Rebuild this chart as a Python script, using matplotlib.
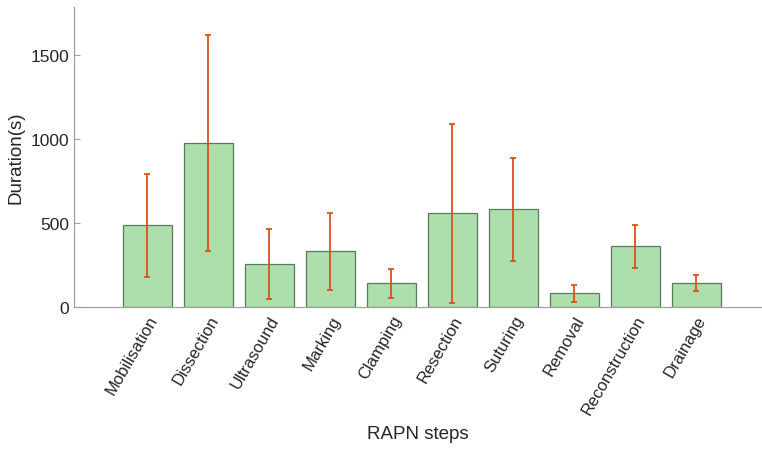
import numpy as np
from matplotlib import pyplot as plt
from matplotlib.transforms import ScaledTranslation

plt.rcParams['font.family'] = ['Liberation Sans', 'DejaVu Sans']

steps = ['Mobilisation', 'Dissection', 'Ultrasound', 'Marking', 'Clamping',
         'Resection', 'Suturing', 'Removal', 'Reconstruction', 'Drainage']
mean_dur = [488, 974, 256, 331, 143, 558, 581, 81, 361, 145]
err_low = [179, 333, 48, 103, 52, 26, 274, 30, 234, 97]
err_high = [792, 1619, 464, 561, 226, 1089, 887, 133, 488, 192]

fig = plt.figure(figsize=(7.62, 4.52), dpi=100)
ax = fig.add_axes([74 / 762, 144 / 452, 688 / 762, 300 / 452])

x = np.arange(1, len(steps) + 1)
mean_arr = np.array(mean_dur)
yerr = [mean_arr - np.array(err_low), np.array(err_high) - mean_arr]

ax.bar(x, mean_dur, width=0.8, color='#addfad', edgecolor='#5a7a5a', linewidth=0.9)
ax.errorbar(x, mean_dur, yerr=yerr, fmt='none', ecolor='#d95319',
            elinewidth=1.3, capsize=2.5, capthick=1.3)

ax.set_xlim(-0.2, 11.08)
ax.set_ylim(0, 1786)
ax.set_yticks([0, 500, 1000, 1500])
ax.set_xticks(x)
ax.set_xticklabels(steps, rotation=60, ha='right', va='top', rotation_mode='anchor')
# nudge labels a bit to the right like the original
shift = ScaledTranslation(6 / 100, 0, fig.dpi_scale_trans)
for lbl in ax.get_xticklabels():
    lbl.set_transform(lbl.get_transform() + shift)

for side in ['top', 'right']:
    ax.spines[side].set_visible(False)
for side in ['left', 'bottom']:
    ax.spines[side].set_color('#a0a0a0')
    ax.spines[side].set_linewidth(0.9)

ax.tick_params(axis='both', direction='in', colors='#a0a0a0', labelcolor='#262626',
               labelsize=12.5, length=4)
ax.tick_params(axis='x', length=0, pad=4, labelsize=12)

ax.set_ylabel('Duration(s)', fontsize=13.5, color='#262626')
ax.set_xlabel('RAPN steps', fontsize=13.5, color='#262626', labelpad=6)

fig.savefig('out.png', dpi=100)
